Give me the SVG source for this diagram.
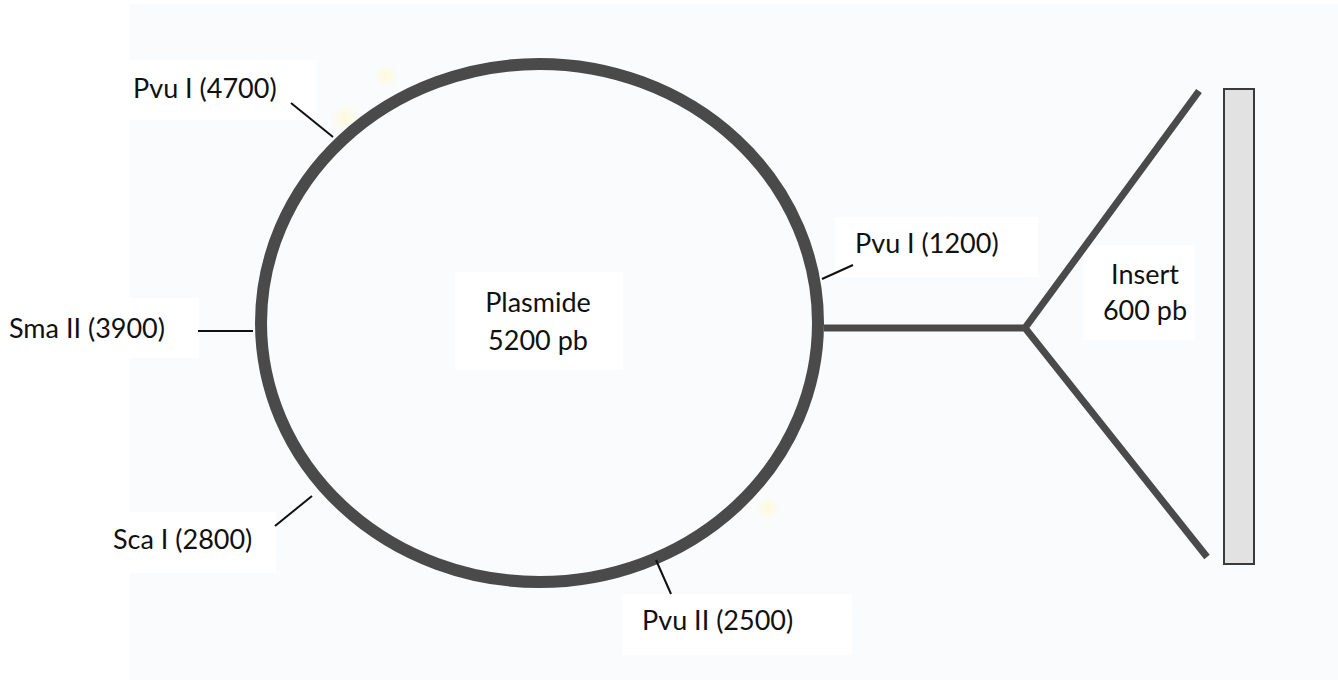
<svg xmlns="http://www.w3.org/2000/svg" width="1338" height="680" viewBox="0 0 1338 680">
  <defs>
    <style>
      .lbl { font-family: Lato, "Open Sans", "Liberation Sans", sans-serif; font-size: 27px; fill: #111; }
      .mid { text-anchor: middle; }
      .box { fill: #ffffff; }
      .dna { fill: none; stroke: #4a4a4a; stroke-width: 12; }
      .arm { fill: none; stroke: #4a4a4a; stroke-width: 7; stroke-linecap: butt; stroke-linejoin: miter; }
      .tick { stroke: #111; stroke-width: 2; fill: none; }
    </style>
    <radialGradient id="speck">
      <stop offset="0" stop-color="#fffad0" stop-opacity="0.8"/>
      <stop offset="1" stop-color="#fffad0" stop-opacity="0"/>
    </radialGradient>
  </defs>

  <!-- page -->
  <rect width="1338" height="680" fill="#ffffff"/>
  <rect x="130" y="4" width="1208" height="676" fill="#fafbfc"/>
  <circle cx="345" cy="118" r="14" fill="url(#speck)"/>
  <circle cx="386" cy="76" r="12" fill="url(#speck)"/>
  <circle cx="768" cy="508" r="12" fill="url(#speck)"/>

  <!-- label backgrounds -->
  <rect class="box" x="0" y="60" width="317" height="60"/>
  <rect class="box" x="0" y="298" width="199" height="60"/>
  <rect class="box" x="0" y="512" width="276" height="61"/>
  <rect class="box" x="622" y="594" width="230" height="61"/>
  <rect class="box" x="835" y="217" width="203" height="60"/>
  <rect class="box" x="455" y="272" width="168" height="98"/>
  <rect class="box" x="1083" y="245" width="112" height="95"/>

  <!-- plasmid -->
  <g id="plasmid">
    <ellipse class="dna" cx="539.5" cy="323" rx="278.5" ry="259"/>
    <text class="lbl mid" x="538" y="312">Plasmide</text>
    <text class="lbl mid" x="538" y="350">5200 pb</text>
  </g>

  <!-- insert fragment -->
  <g id="insert">
    <rect x="1224" y="89" width="30" height="475" fill="#e2e2e2" stroke="#3a3a3a" stroke-width="2"/>
    <text class="lbl mid" x="1145" y="284">Insert</text>
    <text class="lbl mid" x="1145" y="320">600 pb</text>
  </g>

  <!-- restriction sites -->
  <g id="site-pvu1-4700"><text class="lbl" x="133" y="98">Pvu I (4700)</text></g>
  <g id="site-sma2-3900"><text class="lbl" x="9" y="338">Sma II (3900)</text></g>
  <g id="site-sca1-2800"><text class="lbl" x="113" y="549">Sca I (2800)</text></g>
  <g id="site-pvu2-2500"><text class="lbl" x="642" y="630">Pvu II (2500)</text></g>
  <g id="site-pvu1-1200"><text class="lbl" x="855" y="253">Pvu I (1200)</text></g>

  <!-- connectors -->
  <g id="connectors">
    <line class="tick" x1="291" y1="103" x2="333" y2="137"/>
    <line class="tick" x1="198" y1="331" x2="253" y2="331"/>
    <line class="tick" x1="275" y1="526" x2="312" y2="496"/>
    <line class="tick" x1="656" y1="560" x2="671" y2="594"/>
    <line class="tick" x1="822" y1="279" x2="853" y2="265"/>
    <path class="arm" d="M824 328 L1025 328 M1199 91 L1025 328 L1207 557"/>
  </g>
</svg>
